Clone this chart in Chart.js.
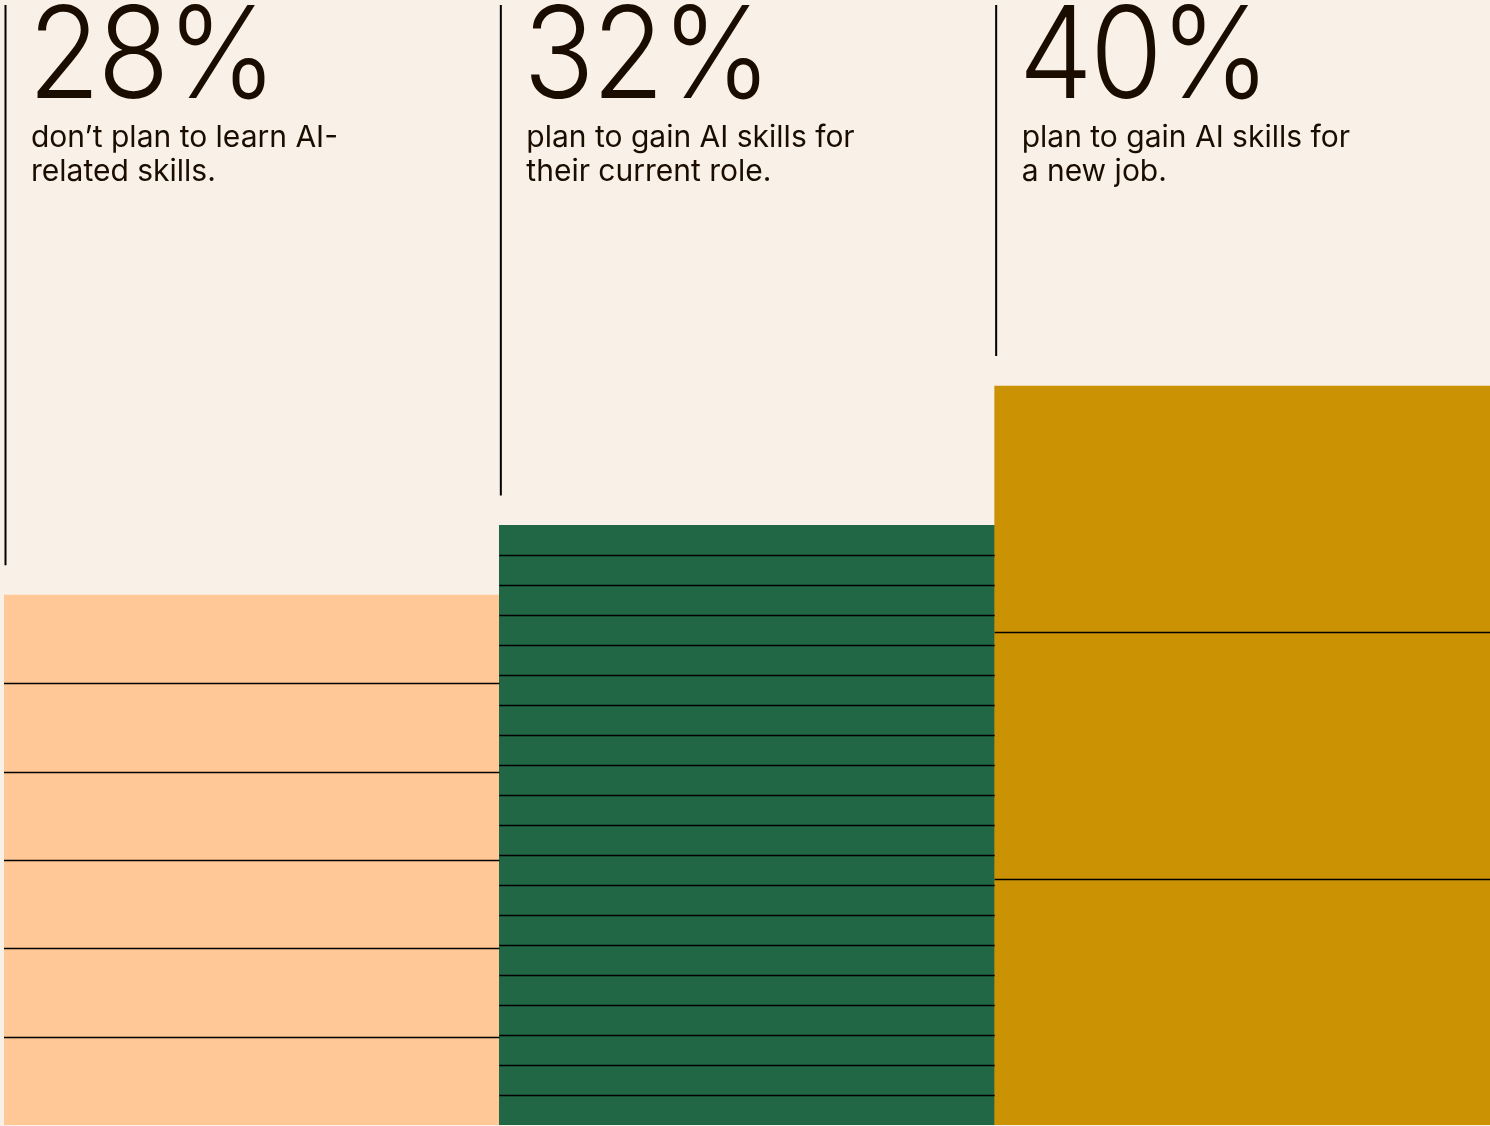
<!DOCTYPE html>
<html>
<head>
<meta charset="utf-8">
<script src="https://cdn.jsdelivr.net/npm/chart.js@4/dist/chart.umd.min.js"></script>
<style>
  html, body { margin: 0; padding: 0; background: #f9f1e7; }
  #wrap { width: 1490px; height: 1126px; }
</style>
</head>
<body>
<div id="wrap"><canvas id="chart" width="1490" height="1126"></canvas></div>
<script>
// data
const categories = ['No AI skills', 'Current role', 'New job'];
const values = [28, 32, 40];
const bigLabels = ['28%', '32%', '40%'];
const descriptions = [
    ['don\u2019t plan to learn AI-', 'related skills.'],
    ['plan to gain AI skills for', 'their current role.'],
    ['plan to gain AI skills for', 'a new job.']
];
const bandCounts = [6, 20, 3];
const barColors = ['#ffc896', '#216645', '#cb9303'];

const textColor = '#1a0d00';
const axisMin = -2.4;

// draws the stripes, the vertical rules and the texts
const decorPlugin = {
    id: 'decor',
    afterDatasetsDraw(chart) {
        const ctx = chart.ctx;
        const meta = chart.getDatasetMeta(0);
        ctx.save();
        meta.data.forEach((bar, i) => {
            const left = bar.x - bar.width / 2;
            const right = bar.x + bar.width / 2;
            const top = bar.y;
            const h = bar.base - bar.y;
            const n = bandCounts[i];

            // horizontal stripes inside the bar
            ctx.strokeStyle = '#000';
            ctx.lineWidth = 1.6;
            for (let k = 1; k < n; k++) {
                const y = Math.round(top + h * k / n) + 0.5;
                ctx.beginPath();
                ctx.moveTo(left, y);
                ctx.lineTo(right, y);
                ctx.stroke();
            }

            // vertical rule above the bar
            ctx.lineWidth = 2;
            ctx.beginPath();
            ctx.moveTo(left + 1.5, 5);
            ctx.lineTo(left + 1.5, top - 30);
            ctx.stroke();

            // big percentage (slightly condensed)
            ctx.fillStyle = textColor;
            ctx.textBaseline = 'alphabetic';
            ctx.textAlign = 'left';
            ctx.save();
            ctx.translate(left + 24, 98);
            ctx.scale(0.92, 1);
            ctx.font = '300 128px Inter';
            ctx.letterSpacing = '-3px';
            ctx.fillText(bigLabels[i], 0, 0);
            ctx.restore();

            // description
            ctx.letterSpacing = '0px';
            ctx.font = '400 30px Inter';
            descriptions[i].forEach((line, j) => {
                ctx.fillText(line, left + 27, 147 + j * 34);
            });
        });
        ctx.restore();
    }
};

new Chart(document.getElementById('chart'), {
    type: 'bar',
    data: {
        labels: categories,
        datasets: [{
            data: values,
            base: axisMin,
            backgroundColor: barColors,
            borderWidth: 0,
            barPercentage: 1,
            categoryPercentage: 1
        }]
    },
    options: {
        responsive: false,
        animation: false,
        layout: { padding: { top: 6, left: 4, right: 0, bottom: 1 } },
        plugins: {
            legend: { display: false },
            tooltip: { enabled: false }
        },
        scales: {
            x: { display: false },
            y: { display: false, min: axisMin, max: 61.8 }
        }
    },
    plugins: [decorPlugin]
});
</script>
</body>
</html>
